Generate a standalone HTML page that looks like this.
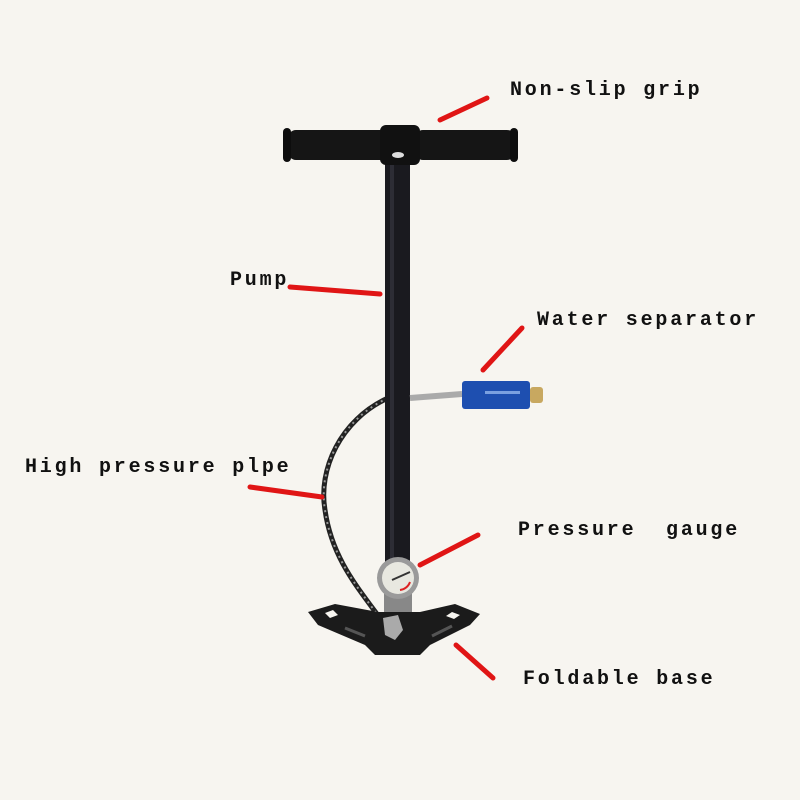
<!DOCTYPE html>
<html><head><style>
html,body{margin:0;padding:0;background:#f7f5f0;}
svg{display:block}
text{font-family:"Liberation Mono",monospace;font-weight:bold;font-size:20px;letter-spacing:2.8px;fill:#111}
</style></head><body>
<svg width="800" height="800" viewBox="0 0 800 800">
<rect width="800" height="800" fill="#f7f5f0"/>
<!-- coiled hose -->
<path d="M388,398 C340,420 318,470 325,510 C332,560 360,590 385,625" fill="none" stroke="#222" stroke-width="5"/>
<path d="M388,398 C340,420 318,470 325,510 C332,560 360,590 385,625" fill="none" stroke="#999" stroke-width="2" stroke-dasharray="2 4"/>
<!-- shaft -->
<rect x="385" y="150" width="25" height="460" fill="#1a1a1f"/>
<rect x="390" y="150" width="4" height="450" fill="#2d2d35"/>
<!-- handle -->
<rect x="288" y="130" width="100" height="30" rx="8" fill="#151515"/>
<rect x="415" y="130" width="100" height="30" rx="8" fill="#151515"/>
<rect x="283" y="128" width="8" height="34" rx="4" fill="#0d0d0d"/>
<rect x="510" y="128" width="8" height="34" rx="4" fill="#0d0d0d"/>
<rect x="380" y="125" width="40" height="40" rx="6" fill="#111"/>
<ellipse cx="398" cy="155" rx="6" ry="3" fill="#ddd"/>
<!-- water separator -->
<path d="M410,398 L462,394" stroke="#aaa" stroke-width="6"/>
<rect x="462" y="381" width="68" height="28" rx="3" fill="#1e4fb0"/>
<rect x="485" y="391" width="35" height="3" fill="#7aa0e0"/>
<rect x="530" y="387" width="13" height="16" rx="3" fill="#c8a860"/>
<!-- gauge -->
<rect x="384" y="592" width="28" height="22" fill="#888"/>
<circle cx="398" cy="578" r="21" fill="#9a9a9a"/>
<circle cx="398" cy="578" r="16" fill="#e8e8e0"/>
<path d="M392,580 L410,572" stroke="#333" stroke-width="2"/>
<path d="M400,590 A12 12 0 0 0 410,582" stroke="#d22" stroke-width="2" fill="none"/>
<!-- base -->
<path d="M308,612 L335,604 L378,612 L420,612 L455,604 L480,614 L470,625 L430,645 L420,655 L375,655 L365,645 L318,625 Z" fill="#1b1b1b"/>
<path d="M325,613 L333,610 L338,615 L330,618Z M452,612 L460,615 L454,619 L446,616Z" fill="#f7f5f0"/>
<path d="M345,628 L365,636" stroke="#555" stroke-width="3"/>
<path d="M432,636 L452,626" stroke="#555" stroke-width="3"/>
<path d="M383,618 L398,615 L403,630 L395,640 L385,635 Z" fill="#aaa"/>
<!-- red lines -->
<g stroke="#e01515" stroke-width="5" stroke-linecap="round">
<line x1="440" y1="120" x2="487" y2="98"/>
<line x1="290" y1="287" x2="380" y2="294"/>
<line x1="483" y1="370" x2="522" y2="328"/>
<line x1="250" y1="487" x2="322" y2="497"/>
<line x1="420" y1="565" x2="478" y2="535"/>
<line x1="456" y1="645" x2="493" y2="678"/>
</g>
<text x="510" y="95">Non-slip grip</text>
<text x="230" y="285">Pump</text>
<text x="537" y="325">Water separator</text>
<text x="25" y="472">High pressure plpe</text>
<text x="518" y="535" xml:space="preserve">Pressure  gauge</text>
<text x="523" y="684">Foldable base</text>
</svg>
</body></html>
